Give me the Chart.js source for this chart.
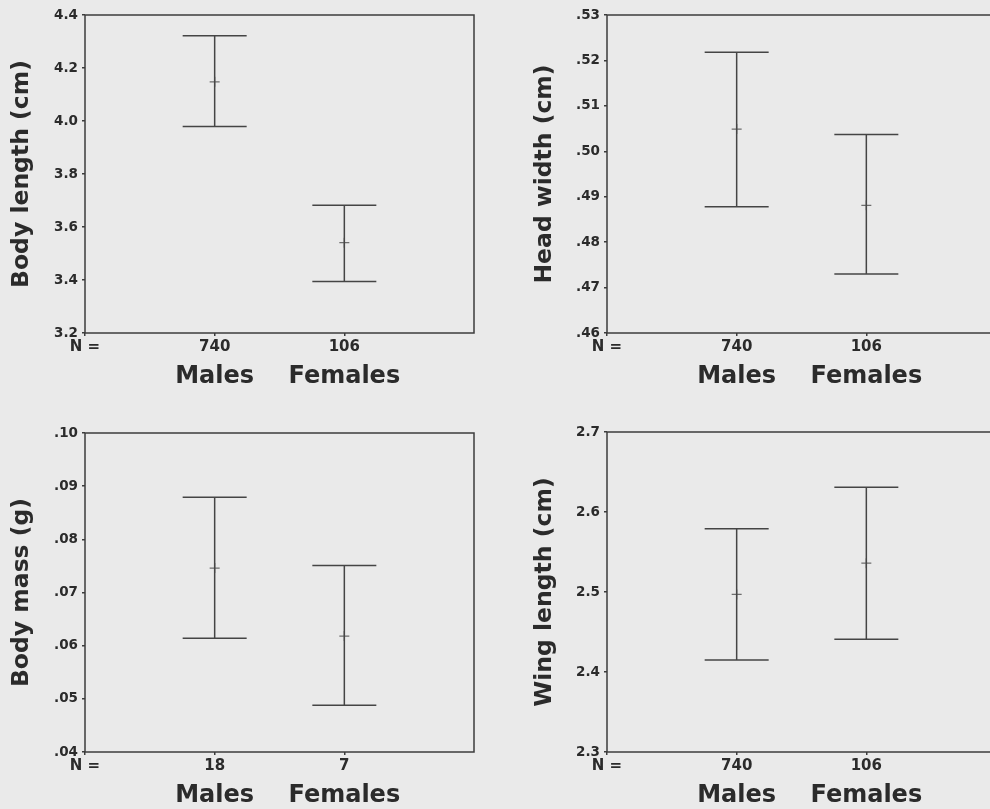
<!DOCTYPE html>
<html>
<head>
<meta charset="utf-8">
<script src="https://cdn.jsdelivr.net/npm/chart.js@4/dist/chart.umd.min.js"></script>
<style>
  html, body { margin: 0; padding: 0; width: 990px; height: 809px; overflow: hidden; background: #eaeaea; }
  .panel { position: absolute; }
</style>
</head>
<body>
<div class="panel" style="left:0;top:0;width:495px;height:405px"><canvas id="bodyLength"></canvas></div>
<div class="panel" style="left:495px;top:0;width:520px;height:405px"><canvas id="headWidth"></canvas></div>
<div class="panel" style="left:0;top:410px;width:495px;height:399px"><canvas id="bodyMass"></canvas></div>
<div class="panel" style="left:495px;top:410px;width:520px;height:399px"><canvas id="wingLength"></canvas></div>
<script>
// Groups shown on every panel
const groups = ['Males', 'Females'];
const nPrefix = 'N =';

// Body length (cm)
const bodyLengthN = [740, 106];
const bodyLengthMean = [4.148, 3.541];
const bodyLengthLower = [3.979, 3.394];
const bodyLengthUpper = [4.322, 3.682];
const bodyLengthTicks = ['3.2', '3.4', '3.6', '3.8', '4.0', '4.2', '4.4'];

// Head width (cm)
const headWidthN = [740, 106];
const headWidthMean = [0.5049, 0.4881];
const headWidthLower = [0.4878, 0.4730];
const headWidthUpper = [0.5218, 0.5037];
const headWidthTicks = ['.46', '.47', '.48', '.49', '.50', '.51', '.52', '.53'];

// Body mass (g)
const bodyMassN = [18, 7];
const bodyMassMean = [0.0746, 0.0618];
const bodyMassLower = [0.0614, 0.0488];
const bodyMassUpper = [0.0879, 0.0751];
const bodyMassTicks = ['.04', '.05', '.06', '.07', '.08', '.09', '.10'];

// Wing length (cm)
const wingLengthN = [740, 106];
const wingLengthMean = [2.497, 2.536];
const wingLengthLower = [2.415, 2.441];
const wingLengthUpper = [2.579, 2.631];
const wingLengthTicks = ['2.3', '2.4', '2.5', '2.6', '2.7'];

const FONT = "'DejaVu Sans', 'Liberation Sans', sans-serif";
const INK = '#2b2b2b';
const LINE = '#454545';

// Closed frame around the plotting area
const frame = {
  id: 'frame',
  afterDraw(chart) {
    const a = chart.chartArea, ctx = chart.ctx;
    ctx.save();
    ctx.strokeStyle = '#3c3c3c';
    ctx.lineWidth = 1.5;
    ctx.strokeRect(a.left, a.top, a.right - a.left, a.bottom - a.top);
    ctx.restore();
  }
};

function panel(id, opts) {
  const {title, n, mean, lower, upper, ticks, yWidth, titlePad, padTop, padRight, x2Height} = opts;
  const tickVals = ticks.map(parseFloat);

  // one vertical interval per group, with caps drawn as line-style points
  const intervals = groups.map((g, i) => ({
    label: g,
    data: [{x: i + 1, y: lower[i]}, {x: i + 1, y: upper[i]}],
    showLine: true,
    borderColor: LINE,
    borderWidth: 1.5,
    pointStyle: 'line',
    pointRadius: 32,
    pointBorderWidth: 1.5,
    pointBorderColor: LINE,
    clip: false
  }));
  const means = {
    label: 'Mean',
    data: mean.map((m, i) => ({x: i + 1, y: m})),
    showLine: false,
    pointStyle: 'cross',
    pointRadius: 5,
    pointBorderWidth: 1.3,
    pointBorderColor: '#6e6e6e'
  };

  new Chart(document.getElementById(id), {
    type: 'scatter',
    data: {datasets: [...intervals, means]},
    plugins: [frame],
    options: {
      responsive: true,
      maintainAspectRatio: false,
      animation: false,
      events: [],
      layout: {autoPadding: false, padding: {left: 0, top: padTop, right: padRight, bottom: 0}},
      plugins: {legend: {display: false}, tooltip: {enabled: false}},
      scales: {
        x: {
          type: 'linear', position: 'bottom', min: 0, max: 3, weight: 1,
          afterBuildTicks: s => { s.ticks = [0, 1, 2].map(v => ({value: v})); },
          afterFit: s => { s.height = 21; },
          border: {display: false},
          grid: {drawOnChartArea: false, tickLength: 3, color: '#3c3c3c', lineWidth: 1.5},
          ticks: {
            autoSkip: false, maxRotation: 0, padding: 2, color: INK,
            font: {family: FONT, size: 15, weight: 'bold'},
            callback: (v, i) => i === 0 ? nPrefix : String(n[i - 1])
          }
        },
        x2: {
          type: 'linear', position: 'bottom', min: 0, max: 3, weight: 2,
          afterBuildTicks: s => { s.ticks = groups.map((g, i) => ({value: i + 1})); },
          afterFit: s => { s.height = x2Height; },
          border: {display: false},
          grid: {display: false},
          ticks: {
            autoSkip: false, maxRotation: 0, padding: 0, color: INK,
            font: {family: FONT, size: 24, weight: 'bold'},
            callback: (v, i) => groups[i]
          }
        },
        y: {
          type: 'linear', min: tickVals[0], max: tickVals[tickVals.length - 1],
          afterBuildTicks: s => { s.ticks = tickVals.map(v => ({value: v})); },
          afterFit: s => { s.width = yWidth; },
          border: {display: false},
          grid: {drawOnChartArea: false, tickLength: 3, color: '#3c3c3c', lineWidth: 1.5},
          ticks: {
            autoSkip: false, padding: 4, color: INK,
            font: {family: FONT, size: 13.5, weight: 'bold'},
            callback: (v, i) => ticks[i]
          },
          title: {
            display: true, text: title, color: INK,
            font: {family: FONT, size: 23.5, weight: 'bold'},
            padding: {top: titlePad, bottom: 0}
          }
        }
      }
    }
  });
}

panel('bodyLength', {
  title: 'Body length (cm)', n: bodyLengthN, mean: bodyLengthMean,
  lower: bodyLengthLower, upper: bodyLengthUpper, ticks: bodyLengthTicks,
  yWidth: 85, titlePad: 8, padTop: 15, padRight: 21, x2Height: 51
});
panel('headWidth', {
  title: 'Head width (cm)', n: headWidthN, mean: headWidthMean,
  lower: headWidthLower, upper: headWidthUpper, ticks: headWidthTicks,
  yWidth: 112, titlePad: 36, padTop: 15, padRight: 19, x2Height: 51
});
panel('bodyMass', {
  title: 'Body mass (g)', n: bodyMassN, mean: bodyMassMean,
  lower: bodyMassLower, upper: bodyMassUpper, ticks: bodyMassTicks,
  yWidth: 85, titlePad: 8, padTop: 23, padRight: 21, x2Height: 36
});
panel('wingLength', {
  title: 'Wing length (cm)', n: wingLengthN, mean: wingLengthMean,
  lower: wingLengthLower, upper: wingLengthUpper, ticks: wingLengthTicks,
  yWidth: 112, titlePad: 36, padTop: 22, padRight: 19, x2Height: 36
});
</script>
</body>
</html>
